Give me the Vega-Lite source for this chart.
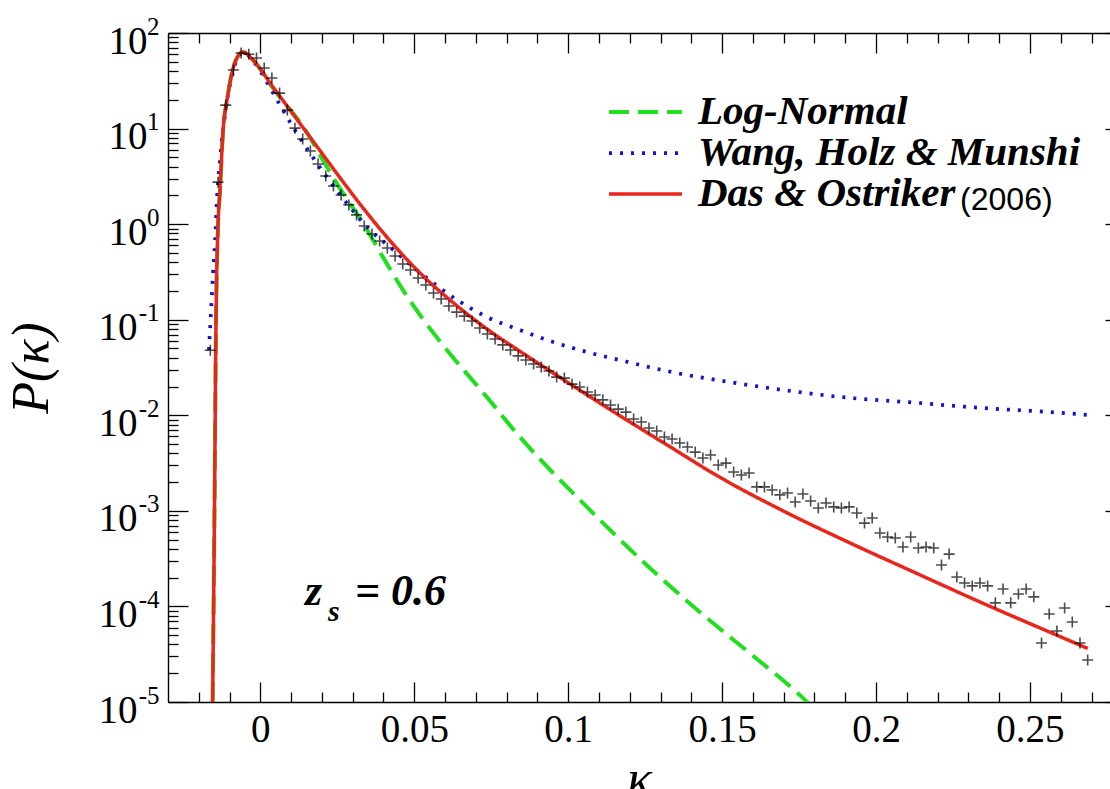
{
  "$schema": "https://vega.github.io/schema/vega-lite/v6.json",
  "width": 942,
  "height": 669,
  "autosize": {"type": "none"},
  "padding": {"left": 168, "top": 33, "right": 0, "bottom": 87},
  "background": "#ffffff",
  "config": {
    "view": {"stroke": null},
    "axis": {"grid": false, "domainColor": "#000000", "tickColor": "#000000", "labelColor": "#000000", "titleColor": "#000000", "domainWidth": 1.4, "tickWidth": 1.3, "labelFont": "Liberation Serif", "titleFont": "Liberation Serif", "labelFlush": false, "labelOverlap": false},
    "legend": {"labelFont": "Liberation Serif", "labelFontSize": 41, "labelFontStyle": "italic", "labelFontWeight": "bold", "labelColor": "#000000", "labelLimit": 0, "symbolStrokeWidth": 3, "rowPadding": 0, "padding": 0, "labelOffset": 14}
  },
  "datasets": {
    "curves": [
      {"model": "Log-Normal", "kappa": -0.0155, "P": 0.00001},
      {"model": "Log-Normal", "kappa": -0.0149, "P": 0.001},
      {"model": "Log-Normal", "kappa": -0.0144, "P": 0.1},
      {"model": "Log-Normal", "kappa": -0.0138, "P": 0.871},
      {"model": "Log-Normal", "kappa": -0.0131, "P": 2.28},
      {"model": "Log-Normal", "kappa": -0.0121, "P": 9.66},
      {"model": "Log-Normal", "kappa": -0.0108, "P": 20.0},
      {"model": "Log-Normal", "kappa": -0.0082, "P": 49.8},
      {"model": "Log-Normal", "kappa": -0.0056, "P": 63.1},
      {"model": "Log-Normal", "kappa": -0.0024, "P": 52.1},
      {"model": "Log-Normal", "kappa": 0.0041, "P": 26.5},
      {"model": "Log-Normal", "kappa": 0.0152, "P": 9.0},
      {"model": "Log-Normal", "kappa": 0.0203, "P": 4.69},
      {"model": "Log-Normal", "kappa": 0.0259, "P": 2.35},
      {"model": "Log-Normal", "kappa": 0.0333, "P": 1.03},
      {"model": "Log-Normal", "kappa": 0.0398, "P": 0.453},
      {"model": "Log-Normal", "kappa": 0.0463, "P": 0.205},
      {"model": "Log-Normal", "kappa": 0.0523, "P": 0.107},
      {"model": "Log-Normal", "kappa": 0.0606, "P": 0.0482},
      {"model": "Log-Normal", "kappa": 0.0736, "P": 0.0155},
      {"model": "Log-Normal", "kappa": 0.0843, "P": 0.00593},
      {"model": "Log-Normal", "kappa": 0.0951, "P": 0.00249},
      {"model": "Log-Normal", "kappa": 0.1028, "P": 0.0014},
      {"model": "Log-Normal", "kappa": 0.1266, "P": 0.000251},
      {"model": "Log-Normal", "kappa": 0.1428, "P": 0.0000871},
      {"model": "Log-Normal", "kappa": 0.159, "P": 0.0000324},
      {"model": "Log-Normal", "kappa": 0.1743, "P": 0.0000126},
      {"model": "Log-Normal", "kappa": 0.1785, "P": 0.0000094},
      {"model": "Wang, Holz & Munshi", "kappa": -0.0167, "P": 0.0482},
      {"model": "Wang, Holz & Munshi", "kappa": -0.016, "P": 0.126},
      {"model": "Wang, Holz & Munshi", "kappa": -0.0154, "P": 0.294},
      {"model": "Wang, Holz & Munshi", "kappa": -0.0147, "P": 0.682},
      {"model": "Wang, Holz & Munshi", "kappa": -0.0141, "P": 1.79},
      {"model": "Wang, Holz & Munshi", "kappa": -0.0131, "P": 4.69},
      {"model": "Wang, Holz & Munshi", "kappa": -0.0115, "P": 13.9},
      {"model": "Wang, Holz & Munshi", "kappa": -0.0092, "P": 36.4},
      {"model": "Wang, Holz & Munshi", "kappa": -0.0056, "P": 63.1},
      {"model": "Wang, Holz & Munshi", "kappa": -0.0024, "P": 51.0},
      {"model": "Wang, Holz & Munshi", "kappa": 0.0054, "P": 20.0},
      {"model": "Wang, Holz & Munshi", "kappa": 0.0106, "P": 10.4},
      {"model": "Wang, Holz & Munshi", "kappa": 0.0161, "P": 5.55},
      {"model": "Wang, Holz & Munshi", "kappa": 0.0216, "P": 3.11},
      {"model": "Wang, Holz & Munshi", "kappa": 0.0291, "P": 1.51},
      {"model": "Wang, Holz & Munshi", "kappa": 0.0356, "P": 0.869},
      {"model": "Wang, Holz & Munshi", "kappa": 0.0421, "P": 0.577},
      {"model": "Wang, Holz & Munshi", "kappa": 0.0528, "P": 0.294},
      {"model": "Wang, Holz & Munshi", "kappa": 0.0639, "P": 0.161},
      {"model": "Wang, Holz & Munshi", "kappa": 0.0736, "P": 0.1067},
      {"model": "Wang, Holz & Munshi", "kappa": 0.0843, "P": 0.078},
      {"model": "Wang, Holz & Munshi", "kappa": 0.0951, "P": 0.0585},
      {"model": "Wang, Holz & Munshi", "kappa": 0.1061, "P": 0.0459},
      {"model": "Wang, Holz & Munshi", "kappa": 0.1168, "P": 0.0378},
      {"model": "Wang, Holz & Munshi", "kappa": 0.1275, "P": 0.0313},
      {"model": "Wang, Holz & Munshi", "kappa": 0.1386, "P": 0.0264},
      {"model": "Wang, Holz & Munshi", "kappa": 0.1483, "P": 0.0234},
      {"model": "Wang, Holz & Munshi", "kappa": 0.1698, "P": 0.0184},
      {"model": "Wang, Holz & Munshi", "kappa": 0.1915, "P": 0.0152},
      {"model": "Wang, Holz & Munshi", "kappa": 0.2133, "P": 0.0135},
      {"model": "Wang, Holz & Munshi", "kappa": 0.2347, "P": 0.0119},
      {"model": "Wang, Holz & Munshi", "kappa": 0.2565, "P": 0.0108},
      {"model": "Wang, Holz & Munshi", "kappa": 0.2688, "P": 0.0101},
      {"model": "Das & Ostriker", "kappa": -0.0155, "P": 0.00001},
      {"model": "Das & Ostriker", "kappa": -0.0149, "P": 0.001},
      {"model": "Das & Ostriker", "kappa": -0.0144, "P": 0.1},
      {"model": "Das & Ostriker", "kappa": -0.0138, "P": 0.871},
      {"model": "Das & Ostriker", "kappa": -0.0131, "P": 2.28},
      {"model": "Das & Ostriker", "kappa": -0.0121, "P": 9.66},
      {"model": "Das & Ostriker", "kappa": -0.0108, "P": 20.0},
      {"model": "Das & Ostriker", "kappa": -0.0082, "P": 49.8},
      {"model": "Das & Ostriker", "kappa": -0.0056, "P": 63.1},
      {"model": "Das & Ostriker", "kappa": -0.0024, "P": 52.1},
      {"model": "Das & Ostriker", "kappa": 0.0041, "P": 27.2},
      {"model": "Das & Ostriker", "kappa": 0.0152, "P": 8.95},
      {"model": "Das & Ostriker", "kappa": 0.0203, "P": 5.35},
      {"model": "Das & Ostriker", "kappa": 0.0259, "P": 3.05},
      {"model": "Das & Ostriker", "kappa": 0.0314, "P": 1.78},
      {"model": "Das & Ostriker", "kappa": 0.0421, "P": 0.671},
      {"model": "Das & Ostriker", "kappa": 0.052, "P": 0.305},
      {"model": "Das & Ostriker", "kappa": 0.0639, "P": 0.1396},
      {"model": "Das & Ostriker", "kappa": 0.0746, "P": 0.0759},
      {"model": "Das & Ostriker", "kappa": 0.0843, "P": 0.0468},
      {"model": "Das & Ostriker", "kappa": 0.1006, "P": 0.0213},
      {"model": "Das & Ostriker", "kappa": 0.1168, "P": 0.00989},
      {"model": "Das & Ostriker", "kappa": 0.1331, "P": 0.00468},
      {"model": "Das & Ostriker", "kappa": 0.1483, "P": 0.00234},
      {"model": "Das & Ostriker", "kappa": 0.1698, "P": 0.001},
      {"model": "Das & Ostriker", "kappa": 0.1915, "P": 0.000462},
      {"model": "Das & Ostriker", "kappa": 0.2133, "P": 0.000221},
      {"model": "Das & Ostriker", "kappa": 0.2347, "P": 0.000108},
      {"model": "Das & Ostriker", "kappa": 0.2565, "P": 0.0000537},
      {"model": "Das & Ostriker", "kappa": 0.2688, "P": 0.0000363}
    ],
    "sim": [
      {"kappa": -0.01625, "P": 0.048}, {"kappa": -0.01375, "P": 2.75}, {"kappa": -0.01125, "P": 17.6},
      {"kappa": -0.00875, "P": 41}, {"kappa": -0.00625, "P": 61.8}, {"kappa": -0.00375, "P": 60},
      {"kappa": -0.00125, "P": 54.8}, {"kappa": 0.00125, "P": 43}, {"kappa": 0.00375, "P": 33.8},
      {"kappa": 0.00625, "P": 23.5}, {"kappa": 0.00875, "P": 15.6}, {"kappa": 0.01125, "P": 10.1},
      {"kappa": 0.01375, "P": 7.78}, {"kappa": 0.01625, "P": 5.82}, {"kappa": 0.01875, "P": 4.26},
      {"kappa": 0.02125, "P": 3.19}, {"kappa": 0.02375, "P": 2.51}, {"kappa": 0.02625, "P": 2.02},
      {"kappa": 0.02875, "P": 1.59}, {"kappa": 0.03125, "P": 1.25}, {"kappa": 0.03375, "P": 0.957},
      {"kappa": 0.03625, "P": 0.789}, {"kappa": 0.03875, "P": 0.667}, {"kappa": 0.04125, "P": 0.563},
      {"kappa": 0.04375, "P": 0.464}, {"kappa": 0.04625, "P": 0.383}, {"kappa": 0.04875, "P": 0.331},
      {"kappa": 0.05125, "P": 0.273}, {"kappa": 0.05375, "P": 0.231}, {"kappa": 0.05625, "P": 0.19},
      {"kappa": 0.05875, "P": 0.165}, {"kappa": 0.06125, "P": 0.139}, {"kappa": 0.06375, "P": 0.12},
      {"kappa": 0.06625, "P": 0.109}, {"kappa": 0.06875, "P": 0.097}, {"kappa": 0.07125, "P": 0.082},
      {"kappa": 0.07375, "P": 0.071}, {"kappa": 0.07625, "P": 0.0629}, {"kappa": 0.07875, "P": 0.0545},
      {"kappa": 0.08125, "P": 0.0482}, {"kappa": 0.08375, "P": 0.0418}, {"kappa": 0.08625, "P": 0.0379},
      {"kappa": 0.08875, "P": 0.0344}, {"kappa": 0.09125, "P": 0.032}, {"kappa": 0.09375, "P": 0.0291},
      {"kappa": 0.09625, "P": 0.0251}, {"kappa": 0.09875, "P": 0.0245}, {"kappa": 0.10125, "P": 0.0212},
      {"kappa": 0.10375, "P": 0.0198}, {"kappa": 0.10625, "P": 0.0175}, {"kappa": 0.10875, "P": 0.0163},
      {"kappa": 0.11125, "P": 0.0145}, {"kappa": 0.11375, "P": 0.0128}, {"kappa": 0.11625, "P": 0.0116},
      {"kappa": 0.11875, "P": 0.0108}, {"kappa": 0.12125, "P": 0.00914}, {"kappa": 0.12375, "P": 0.00851},
      {"kappa": 0.12625, "P": 0.00736}, {"kappa": 0.12875, "P": 0.00684}, {"kappa": 0.13125, "P": 0.00592},
      {"kappa": 0.13375, "P": 0.00564}, {"kappa": 0.13625, "P": 0.00512}, {"kappa": 0.13875, "P": 0.00465},
      {"kappa": 0.14125, "P": 0.00412}, {"kappa": 0.14375, "P": 0.00357}, {"kappa": 0.14625, "P": 0.00384},
      {"kappa": 0.14875, "P": 0.00302}, {"kappa": 0.15125, "P": 0.00316}, {"kappa": 0.15375, "P": 0.00255},
      {"kappa": 0.15625, "P": 0.00237}, {"kappa": 0.15875, "P": 0.00249}, {"kappa": 0.16125, "P": 0.00178},
      {"kappa": 0.16375, "P": 0.00178}, {"kappa": 0.16625, "P": 0.00165}, {"kappa": 0.16875, "P": 0.00147},
      {"kappa": 0.17125, "P": 0.00154}, {"kappa": 0.17375, "P": 0.00124}, {"kappa": 0.17625, "P": 0.0015},
      {"kappa": 0.17875, "P": 0.00127}, {"kappa": 0.18125, "P": 0.00107}, {"kappa": 0.18375, "P": 0.00121},
      {"kappa": 0.18625, "P": 0.0011}, {"kappa": 0.18875, "P": 0.00107}, {"kappa": 0.19125, "P": 0.0011},
      {"kappa": 0.19375, "P": 0.000949}, {"kappa": 0.19625, "P": 0.000745}, {"kappa": 0.19875, "P": 0.000841},
      {"kappa": 0.20125, "P": 0.000586}, {"kappa": 0.20375, "P": 0.000532}, {"kappa": 0.20625, "P": 0.00052},
      {"kappa": 0.20875, "P": 0.000418}, {"kappa": 0.21125, "P": 0.000532}, {"kappa": 0.21375, "P": 0.000408},
      {"kappa": 0.21625, "P": 0.000418}, {"kappa": 0.21875, "P": 0.000408}, {"kappa": 0.22125, "P": 0.000271},
      {"kappa": 0.22375, "P": 0.000353}, {"kappa": 0.22625, "P": 0.000203}, {"kappa": 0.22875, "P": 0.000176},
      {"kappa": 0.23125, "P": 0.000164}, {"kappa": 0.23375, "P": 0.000176}, {"kappa": 0.23625, "P": 0.000164},
      {"kappa": 0.23875, "P": 0.000109}, {"kappa": 0.24125, "P": 0.000152}, {"kappa": 0.24375, "P": 0.000109},
      {"kappa": 0.24625, "P": 0.000135}, {"kappa": 0.24875, "P": 0.000152}, {"kappa": 0.25125, "P": 0.000126},
      {"kappa": 0.25375, "P": 0.0000414}, {"kappa": 0.25625, "P": 0.0000834}, {"kappa": 0.25875, "P": 0.0000553},
      {"kappa": 0.26125, "P": 0.0000964}, {"kappa": 0.26375, "P": 0.0000687}, {"kappa": 0.26625, "P": 0.0000414},
      {"kappa": 0.26875, "P": 0.0000275}
    ]
  },
  "resolve": {"axis": {"x": "independent", "y": "independent"}},
  "layer": [
    {
      "data": {"name": "curves"},
      "mark": {"type": "line", "clip": true, "strokeCap": "butt", "interpolate": "monotone"},
      "encoding": {
        "x": {
          "field": "kappa", "type": "quantitative",
          "scale": {"domain": [-0.03, 0.276], "nice": false, "zero": false},
          "axis": {"orient": "bottom", "values": [0, 0.05, 0.1, 0.15, 0.2, 0.25], "format": "~g", "tickSize": -20, "labelPadding": 28, "labelFontSize": 39, "title": "κ", "titleFontSize": 52, "titleFontStyle": "italic", "titleFontWeight": "normal", "titlePadding": 5}
        },
        "y": {
          "field": "P", "type": "quantitative",
          "scale": {"type": "log", "domain": [0.00001, 100], "nice": false},
          "axis": {"orient": "left", "values": [0.00001, 0.0001, 0.001, 0.01, 0.1, 1, 10, 100], "labelExpr": "'10'", "tickSize": -20, "labelPadding": {"condition": {"test": "datum.value < 0.9", "value": 51}, "value": 41}, "labelFontSize": 39, "labelAlign": "right", "labelBaseline": "middle", "labelOffset": 8, "title": "P(κ)", "titleFontSize": 52, "titleFontStyle": "italic", "titleFontWeight": "normal", "titlePadding": 40}
        },
        "color": {
          "field": "model", "type": "nominal",
          "scale": {"domain": ["Log-Normal", "Wang, Holz & Munshi", "Das & Ostriker"], "range": ["#1fe01f", "#1414c8", "#e8261c"]},
          "legend": {"orient": "none", "legendX": 439, "legendY": 59, "title": null, "symbolType": "stroke", "symbolSize": 5329, "clipHeight": 40}
        },
        "strokeDash": {
          "field": "model", "type": "nominal",
          "scale": {"domain": ["Log-Normal", "Wang, Holz & Munshi", "Das & Ostriker"], "range": [[20, 9], [3, 8], [1, 0]]},
          "legend": {"orient": "none", "legendX": 439, "legendY": 59, "title": null, "symbolType": "stroke", "symbolSize": 5329, "clipHeight": 40}
        },
        "strokeWidth": {
          "field": "model", "type": "nominal",
          "scale": {"domain": ["Log-Normal", "Wang, Holz & Munshi", "Das & Ostriker"], "range": [4, 3.5, 3]},
          "legend": null
        }
      }
    },
    {
      "data": {"name": "sim"},
      "mark": {"type": "point", "shape": "M-1,0L1,0M0,-1L0,1", "size": 121, "filled": false, "stroke": "#000000", "strokeWidth": 1.6, "clip": true},
      "encoding": {
        "x": {
          "field": "kappa", "type": "quantitative",
          "scale": {"domain": [-0.03, 0.276], "nice": false, "zero": false},
          "axis": {"orient": "bottom", "values": [-0.02, -0.01, 0.01, 0.02, 0.03, 0.04, 0.06, 0.07, 0.08, 0.09, 0.11, 0.12, 0.13, 0.14, 0.16, 0.17, 0.18, 0.19, 0.21, 0.22, 0.23, 0.24, 0.26, 0.27], "labels": false, "domain": false, "tickSize": -10, "title": null}
        },
        "y": {
          "field": "P", "type": "quantitative",
          "scale": {"type": "log", "domain": [0.00001, 100], "nice": false},
          "axis": {"orient": "left", "values": [0.00001, 0.0001, 0.001, 0.01, 0.1, 1, 10, 100], "labelExpr": "'' + round(log(datum.value) / LN10)", "ticks": false, "domain": false, "labelPadding": 9, "labelFontSize": 25, "labelAlign": "right", "labelBaseline": "middle", "labelOffset": -7, "title": null}
        }
      }
    },
    {
      "data": {"values": [{"kappa": 0.0145, "P": 0.0001035, "label": "z"}]},
      "mark": {"type": "text", "font": "Liberation Serif", "fontSize": 44, "fontStyle": "italic", "fontWeight": "bold", "align": "left", "baseline": "alphabetic", "color": "#000000"},
      "encoding": {
        "x": {
          "field": "kappa", "type": "quantitative",
          "scale": {"domain": [-0.03, 0.276], "nice": false, "zero": false},
          "axis": {"orient": "top", "values": [0, 0.05, 0.1, 0.15, 0.2, 0.25], "labels": false, "domain": true, "tickSize": -20, "title": null}
        },
        "y": {
          "field": "P", "type": "quantitative",
          "scale": {"type": "log", "domain": [0.00001, 100], "nice": false},
          "axis": {"orient": "left", "values": [0.00002, 0.00003, 0.00004, 0.00005, 0.00006, 0.00007, 0.00008, 0.00009, 0.0002, 0.0003, 0.0004, 0.0005, 0.0006, 0.0007, 0.0008, 0.0009, 0.002, 0.003, 0.004, 0.005, 0.006, 0.007, 0.008, 0.009, 0.02, 0.03, 0.04, 0.05, 0.06, 0.07, 0.08, 0.09, 0.2, 0.3, 0.4, 0.5, 0.6, 0.7, 0.8, 0.9, 2, 3, 4, 5, 6, 7, 8, 9, 20, 30, 40, 50, 60, 70, 80, 90], "labels": false, "domain": false, "tickSize": -10, "title": null}
        },
        "text": {"field": "label"}
      }
    },
    {
      "data": {"values": [{"kappa": 0.0145, "P": 0.0001035, "label": "s"}]},
      "mark": {"type": "text", "font": "Liberation Serif", "fontSize": 30, "fontStyle": "italic", "fontWeight": "bold", "align": "left", "baseline": "alphabetic", "dx": 23, "dy": 16, "color": "#000000"},
      "encoding": {
        "x": {
          "field": "kappa", "type": "quantitative",
          "scale": {"domain": [-0.03, 0.276], "nice": false, "zero": false},
          "axis": {"orient": "top", "values": [-0.02, -0.01, 0.01, 0.02, 0.03, 0.04, 0.06, 0.07, 0.08, 0.09, 0.11, 0.12, 0.13, 0.14, 0.16, 0.17, 0.18, 0.19, 0.21, 0.22, 0.23, 0.24, 0.26, 0.27], "labels": false, "domain": false, "tickSize": -10, "title": null}
        },
        "y": {
          "field": "P", "type": "quantitative",
          "scale": {"type": "log", "domain": [0.00001, 100], "nice": false},
          "axis": {"orient": "right", "values": [0.00001, 0.0001, 0.001, 0.01, 0.1, 1, 10, 100], "labels": false, "domain": false, "tickSize": -5, "title": null}
        },
        "text": {"field": "label"}
      }
    },
    {
      "data": {"values": [{"kappa": 0.0145, "P": 0.0001035, "label": "= 0.6"}]},
      "mark": {"type": "text", "font": "Liberation Serif", "fontSize": 44, "fontStyle": "italic", "fontWeight": "bold", "align": "left", "baseline": "alphabetic", "dx": 50, "color": "#000000"},
      "encoding": {
        "x": {"field": "kappa", "type": "quantitative", "scale": {"domain": [-0.03, 0.276], "nice": false, "zero": false}, "axis": null},
        "y": {"field": "P", "type": "quantitative", "scale": {"type": "log", "domain": [0.00001, 100], "nice": false}, "axis": null},
        "text": {"field": "label"}
      }
    },
    {
      "data": {"values": [{"kappa": 0.2273, "P": 1.406, "label": "(2006)"}]},
      "mark": {"type": "text", "font": "Liberation Sans", "fontSize": 32, "align": "left", "baseline": "alphabetic", "color": "#000000"},
      "encoding": {
        "x": {"field": "kappa", "type": "quantitative", "scale": {"domain": [-0.03, 0.276], "nice": false, "zero": false}, "axis": null},
        "y": {"field": "P", "type": "quantitative", "scale": {"type": "log", "domain": [0.00001, 100], "nice": false}, "axis": null},
        "text": {"field": "label"}
      }
    }
  ]
}
